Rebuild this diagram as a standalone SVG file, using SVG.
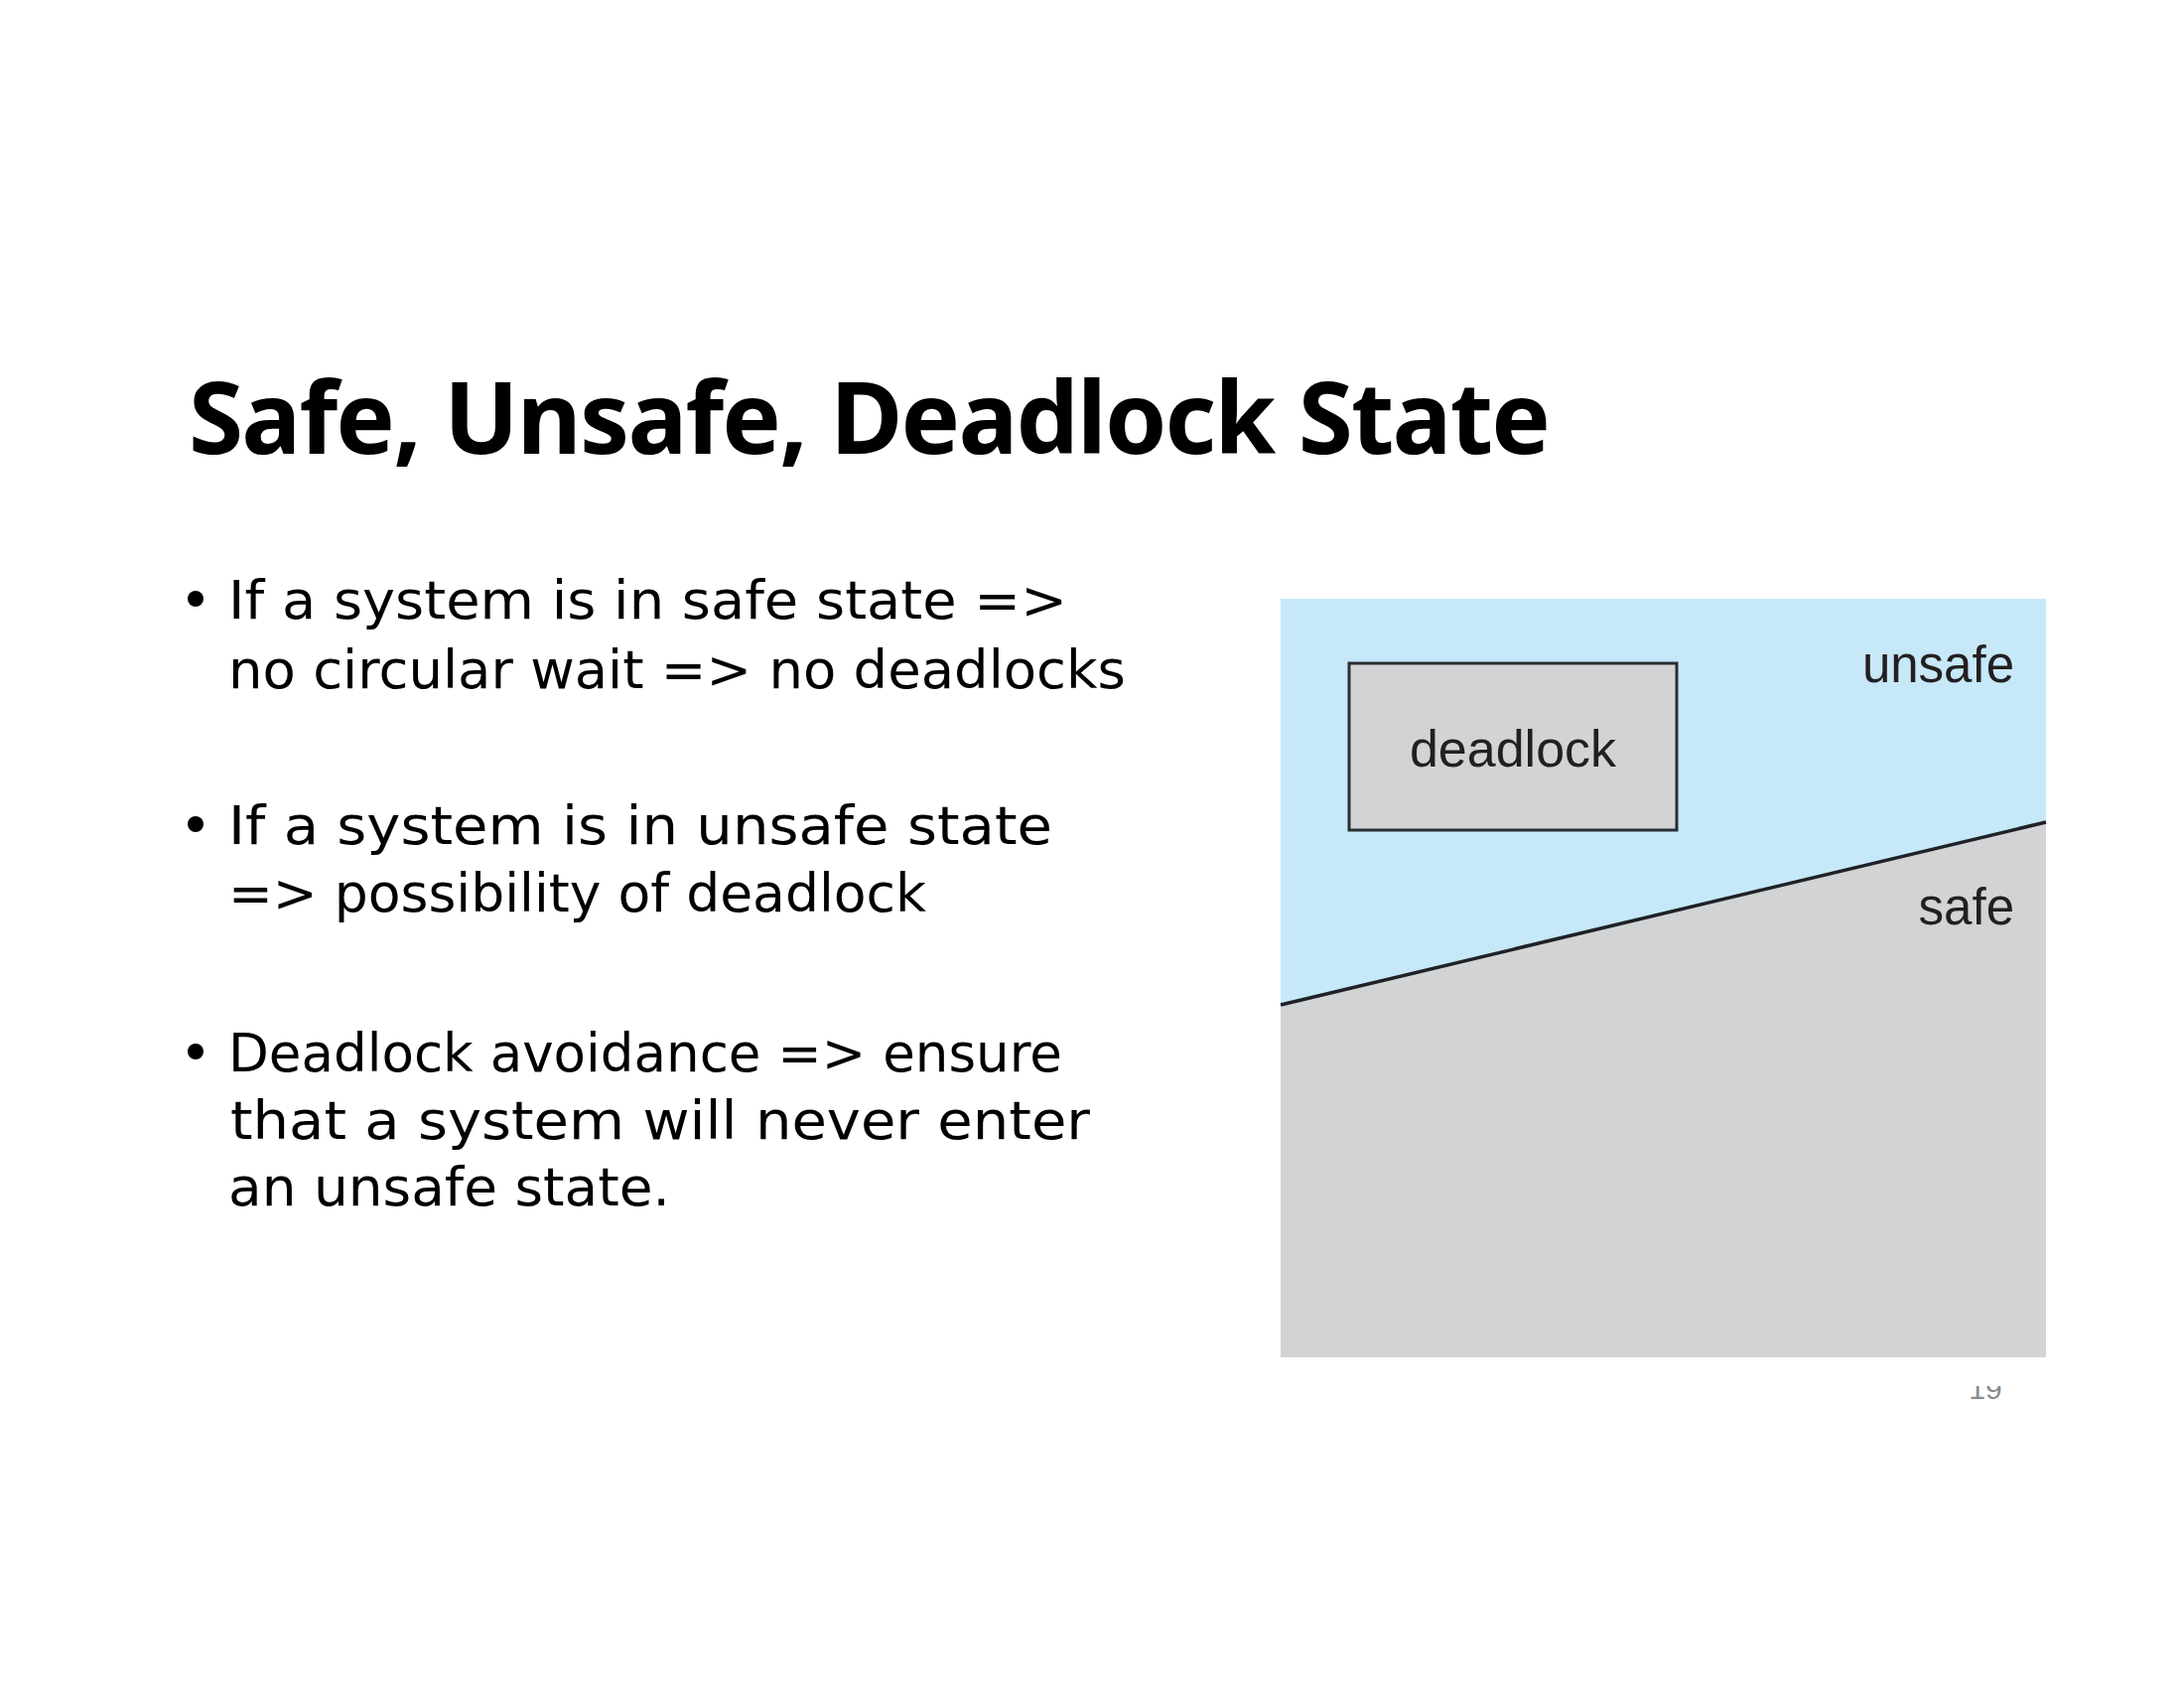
<svg xmlns="http://www.w3.org/2000/svg" width="2200" height="1700" viewBox="0 0 2200 1700">
  <style>
    .title { font-family: "Noto Sans", "DejaVu Sans", sans-serif; font-weight: bold; font-size: 100px; fill: #000; }
    .body { font-family: "DejaVu Sans", "Noto Sans", sans-serif; font-size: 53px; fill: #000; }
    .fig { font-family: "Liberation Sans", Arial, sans-serif; fill: #231f20; }
    .num { font-family: "Liberation Sans", Arial, sans-serif; font-size: 30px; fill: #8a8a8a; }
  </style>
  <defs>
    <clipPath id="numClip">
      <rect x="1960" y="1396" width="80" height="30"/>
    </clipPath>
  </defs>
  <rect x="0" y="0" width="2200" height="1700" fill="#ffffff"/>

  <g id="title">
    <text class="title" x="190" y="457" textLength="1372" lengthAdjust="spacing">Safe, Unsafe, Deadlock State</text>
  </g>

  <g id="bullets">
    <g id="bullet1">
      <circle cx="197" cy="603" r="8" fill="#000"/>
      <text class="body" x="230" y="623" textLength="845" lengthAdjust="spacingAndGlyphs">If a system is in safe state =&gt;</text>
      <text class="body" x="230" y="693" textLength="904" lengthAdjust="spacingAndGlyphs">no circular wait =&gt; no deadlocks</text>
    </g>
    <g id="bullet2">
      <circle cx="197" cy="830" r="8" fill="#000"/>
      <text class="body" x="230" y="850" textLength="830" lengthAdjust="spacingAndGlyphs">If a system is in unsafe state</text>
      <text class="body" x="230" y="918" textLength="703" lengthAdjust="spacingAndGlyphs">=&gt; possibility of deadlock</text>
    </g>
    <g id="bullet3">
      <circle cx="197" cy="1059" r="8" fill="#000"/>
      <text class="body" x="230" y="1079" textLength="840" lengthAdjust="spacingAndGlyphs">Deadlock avoidance =&gt; ensure</text>
      <text class="body" x="232" y="1147" textLength="866" lengthAdjust="spacingAndGlyphs">that a system will never enter</text>
      <text class="body" x="230" y="1214" textLength="445" lengthAdjust="spacingAndGlyphs">an unsafe state.</text>
    </g>
  </g>

  <g id="figure">
    <g id="unsafe-region">
      <rect x="1290" y="603" width="771" height="764" fill="#c6e8f9"/>
    </g>
    <g id="safe-region">
      <polygon points="1290,1012 2061,828 2061,1367 1290,1367" fill="#d1d3d5"/>
    </g>
    <g id="connectors">
      <line x1="1290" y1="1012" x2="2061" y2="828" stroke="#1e2226" stroke-width="3.5"/>
    </g>
    <g id="deadlock">
      <rect x="1359" y="668" width="330" height="168" fill="#d1d3d5" stroke="#2a2e33" stroke-width="3"/>
      <text class="fig" x="1524" y="772" font-size="52" text-anchor="middle">deadlock</text>
    </g>
    <g id="label-unsafe">
      <text class="fig" x="2029" y="687" font-size="51" text-anchor="end">unsafe</text>
    </g>
    <g id="label-safe">
      <text class="fig" x="2029" y="931" font-size="51" text-anchor="end">safe</text>
    </g>
  </g>

  <g id="page-number" clip-path="url(#numClip)">
    <text class="num" x="2000" y="1409" text-anchor="middle">19</text>
  </g>
</svg>
